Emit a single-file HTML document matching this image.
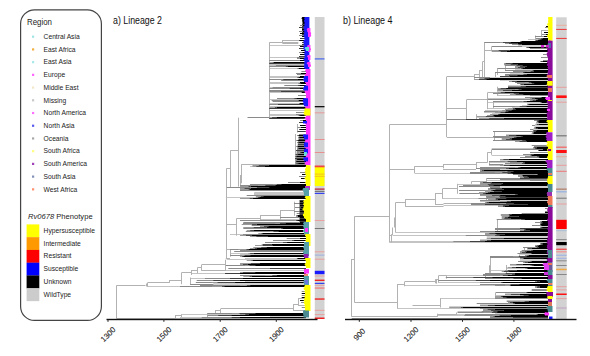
<!DOCTYPE html>
<html><head><meta charset="utf-8"><style>html,body{margin:0;padding:0;background:#fff;}svg{display:block;}</style></head>
<body><svg width="590" height="356" viewBox="0 0 590 356">
<rect width="590" height="356" fill="#fff"/>
<rect x="20.6" y="9.8" width="80.8" height="310.6" rx="14" ry="14" fill="none" stroke="#444" stroke-width="1.2"/>
<text x="27" y="25" font-size="8.3" fill="#222" font-family="Liberation Sans, sans-serif" textLength="25" lengthAdjust="spacingAndGlyphs">Region</text>
<rect x="32" y="35.60" width="2.2" height="2.2" fill="#a0e4e4"/>
<text x="43.6" y="39.00" font-size="6.7" fill="#222" font-family="Liberation Sans, sans-serif">Central Asia</text>
<rect x="32" y="48.32" width="2.2" height="2.2" fill="#f2b040"/>
<text x="43.6" y="51.72" font-size="6.7" fill="#222" font-family="Liberation Sans, sans-serif">East Africa</text>
<rect x="32" y="61.04" width="2.2" height="2.2" fill="#a8e8e8"/>
<text x="43.6" y="64.44" font-size="6.7" fill="#222" font-family="Liberation Sans, sans-serif">East Asia</text>
<rect x="32" y="73.76" width="2.2" height="2.2" fill="#ff66ff"/>
<text x="43.6" y="77.16" font-size="6.7" fill="#222" font-family="Liberation Sans, sans-serif">Europe</text>
<rect x="32" y="86.48" width="2.2" height="2.2" fill="#f4e8c8"/>
<text x="43.6" y="89.88" font-size="6.7" fill="#222" font-family="Liberation Sans, sans-serif">Middle East</text>
<rect x="32" y="99.20" width="2.2" height="2.2" fill="#c8c8c8"/>
<text x="43.6" y="102.60" font-size="6.7" fill="#222" font-family="Liberation Sans, sans-serif">Missing</text>
<rect x="32" y="111.92" width="2.2" height="2.2" fill="#ff70ff"/>
<text x="43.6" y="115.32" font-size="6.7" fill="#222" font-family="Liberation Sans, sans-serif">North America</text>
<rect x="32" y="124.64" width="2.2" height="2.2" fill="#5a5aee"/>
<text x="43.6" y="128.04" font-size="6.7" fill="#222" font-family="Liberation Sans, sans-serif">North Asia</text>
<rect x="32" y="137.36" width="2.2" height="2.2" fill="#a8a8a8"/>
<text x="43.6" y="140.76" font-size="6.7" fill="#222" font-family="Liberation Sans, sans-serif">Oceania</text>
<rect x="32" y="150.08" width="2.2" height="2.2" fill="#ffff80"/>
<text x="43.6" y="153.48" font-size="6.7" fill="#222" font-family="Liberation Sans, sans-serif">South Africa</text>
<rect x="32" y="162.80" width="2.2" height="2.2" fill="#a040b8"/>
<text x="43.6" y="166.20" font-size="6.7" fill="#222" font-family="Liberation Sans, sans-serif">South America</text>
<rect x="32" y="175.52" width="2.2" height="2.2" fill="#8090b8"/>
<text x="43.6" y="178.92" font-size="6.7" fill="#222" font-family="Liberation Sans, sans-serif">South Asia</text>
<rect x="32" y="188.24" width="2.2" height="2.2" fill="#ff9070"/>
<text x="43.6" y="191.64" font-size="6.7" fill="#222" font-family="Liberation Sans, sans-serif">West Africa</text>
<text x="28" y="219" font-size="7.6" fill="#222" font-family="Liberation Sans, sans-serif"><tspan font-style="italic">Rv0678</tspan> Phenotype</text>
<rect x="26.6" y="224.40" width="12.7" height="12.9" fill="#ffff00"/>
<text x="43.6" y="233.00" font-size="6.7" fill="#222" font-family="Liberation Sans, sans-serif">Hypersusceptible</text>
<rect x="26.6" y="237.17" width="12.7" height="12.9" fill="#ff9900"/>
<text x="43.6" y="245.72" font-size="6.7" fill="#222" font-family="Liberation Sans, sans-serif">Intermediate</text>
<rect x="26.6" y="249.94" width="12.7" height="12.9" fill="#ff0000"/>
<text x="43.6" y="258.44" font-size="6.7" fill="#222" font-family="Liberation Sans, sans-serif">Resistant</text>
<rect x="26.6" y="262.71" width="12.7" height="12.9" fill="#0000ff"/>
<text x="43.6" y="271.16" font-size="6.7" fill="#222" font-family="Liberation Sans, sans-serif">Susceptible</text>
<rect x="26.6" y="275.48" width="12.7" height="12.9" fill="#000000"/>
<text x="43.6" y="283.88" font-size="6.7" fill="#222" font-family="Liberation Sans, sans-serif">Unknown</text>
<rect x="26.6" y="288.25" width="12.7" height="12.9" fill="#cccccc"/>
<text x="43.6" y="296.60" font-size="6.7" fill="#222" font-family="Liberation Sans, sans-serif">WildType</text>
<rect x="314.8" y="17" width="9.7" height="302" fill="#d2d2d2"/>
<rect x="556.2" y="17.3" width="10.5" height="301.9" fill="#d2d2d2"/>
<rect x="314.8" y="58.3" width="9.7" height="1.2" fill="#4466ee"/>
<rect x="314.8" y="106.0" width="9.7" height="1.3" fill="#111"/>
<rect x="314.8" y="112.3" width="9.7" height="1.0" fill="#e89a9a"/>
<rect x="314.8" y="139.0" width="9.7" height="1.0" fill="#e89090"/>
<rect x="314.8" y="152.0" width="9.7" height="1.0" fill="#e89090"/>
<rect x="314.8" y="166.0" width="9.7" height="20.0" fill="#ffff00"/>
<rect x="314.8" y="165.5" width="9.7" height="1.8" fill="#ee4444"/>
<rect x="314.8" y="173.6" width="9.7" height="1.0" fill="#f4c020"/>
<rect x="314.8" y="175.8" width="9.7" height="1.0" fill="#f4c020"/>
<rect x="314.8" y="188.3" width="9.7" height="1.7" fill="#c05060"/>
<rect x="314.8" y="190.8" width="9.7" height="1.2" fill="#777"/>
<rect x="314.8" y="192.8" width="9.7" height="1.2" fill="#3344ee"/>
<rect x="314.8" y="220.0" width="9.7" height="1.0" fill="#e8a0a0"/>
<rect x="314.8" y="228.0" width="9.7" height="1.0" fill="#777"/>
<rect x="314.8" y="251.3" width="9.7" height="1.0" fill="#e8a0a0"/>
<rect x="314.8" y="254.6" width="9.7" height="1.0" fill="#a0b0e0"/>
<rect x="314.8" y="258.7" width="9.7" height="1.0" fill="#e8a0a0"/>
<rect x="314.8" y="270.8" width="9.7" height="3.4" fill="#1a1aff"/>
<rect x="314.8" y="275.5" width="9.7" height="1.0" fill="#e8a0a0"/>
<rect x="314.8" y="279.6" width="9.7" height="1.4" fill="#ee2222"/>
<rect x="314.8" y="282.8" width="9.7" height="1.2" fill="#3344ee"/>
<rect x="314.8" y="284.8" width="9.7" height="1.0" fill="#e8a0a0"/>
<rect x="314.8" y="287.3" width="9.7" height="1.5" fill="#ee8888"/>
<rect x="314.8" y="298.3" width="9.7" height="1.5" fill="#ee3333"/>
<rect x="314.8" y="309.8" width="9.7" height="1.0" fill="#e8a0a0"/>
<rect x="314.8" y="314.1" width="9.7" height="1.0" fill="#e8a0a0"/>
<rect x="314.8" y="317.5" width="9.7" height="1.5" fill="#ee2222"/>
<rect x="556.2" y="24.8" width="10.5" height="1.0" fill="#e8b0a0"/>
<rect x="556.2" y="28.9" width="10.5" height="1.1" fill="#ee4444"/>
<rect x="556.2" y="37.9" width="10.5" height="1.1" fill="#ee4444"/>
<rect x="556.2" y="86.8" width="10.5" height="1.0" fill="#e8a0a0"/>
<rect x="556.2" y="95.4" width="10.5" height="2.6" fill="#ff1111"/>
<rect x="556.2" y="101.7" width="10.5" height="1.0" fill="#e8a0a0"/>
<rect x="556.2" y="135.0" width="10.5" height="1.5" fill="#888"/>
<rect x="556.2" y="146.5" width="10.5" height="1.5" fill="#ee7777"/>
<rect x="556.2" y="150.0" width="10.5" height="3.0" fill="#ff1111"/>
<rect x="556.2" y="156.2" width="10.5" height="1.0" fill="#e8b0a0"/>
<rect x="556.2" y="164.8" width="10.5" height="1.0" fill="#e8a0a0"/>
<rect x="556.2" y="170.8" width="10.5" height="1.0" fill="#ee7777"/>
<rect x="556.2" y="188.4" width="10.5" height="1.6" fill="#b89080"/>
<rect x="556.2" y="191.0" width="10.5" height="1.5" fill="#a0b8e0"/>
<rect x="556.2" y="197.7" width="10.5" height="1.0" fill="#777"/>
<rect x="556.2" y="203.5" width="10.5" height="1.0" fill="#e8a0a0"/>
<rect x="556.2" y="219.8" width="10.5" height="9.2" fill="#ff0000"/>
<rect x="556.2" y="230.2" width="10.5" height="1.0" fill="#a8c0d8"/>
<rect x="556.2" y="239.1" width="10.5" height="1.0" fill="#888"/>
<rect x="556.2" y="242.0" width="10.5" height="3.2" fill="#000"/>
<rect x="556.2" y="248.6" width="10.5" height="1.4" fill="#ee5555"/>
<rect x="556.2" y="251.1" width="10.5" height="1.4" fill="#ee9999"/>
<rect x="556.2" y="254.6" width="10.5" height="1.4" fill="#a8b8e0"/>
<rect x="556.2" y="257.7" width="10.5" height="1.4" fill="#a8b8e0"/>
<rect x="556.2" y="260.3" width="10.5" height="1.0" fill="#888"/>
<rect x="556.2" y="265.0" width="10.5" height="1.0" fill="#888"/>
<rect x="556.2" y="268.7" width="10.5" height="1.5" fill="#eeaa44"/>
<rect x="556.2" y="274.0" width="10.5" height="1.0" fill="#888"/>
<rect x="556.2" y="286.2" width="10.5" height="1.0" fill="#e8a0a0"/>
<rect x="556.2" y="289.4" width="10.5" height="1.0" fill="#e8a0a0"/>
<rect x="556.2" y="293.5" width="10.5" height="1.5" fill="#ff1111"/>
<rect x="556.2" y="298.1" width="10.5" height="1.0" fill="#e8a0a0"/>
<rect x="556.2" y="307.5" width="10.5" height="1.0" fill="#c0a0c0"/>
<path stroke="#c4c4c4" stroke-width="1" fill="none" d="M269.2 45.5H306.0M269.2 57.5H306.0M269.2 64.5H306.0M269.2 65.5H306.0M269.2 68.5H306.0M269.2 76.5H306.0M276.4 76.5H306.0M269.2 77.5H306.0M269.2 82.5H306.0M269.2 83.5H306.0M269.2 87.5H306.0M269.2 92.5H306.0M269.2 99.5H306.0M269.2 103.5H306.0M269.2 106.5H306.0M269.2 110.5H306.0M269.2 114.5H306.0M269.2 115.5H306.0M250.0 166.5H306.0M254.2 192.5H306.0M254.0 193.5H306.0M254.0 194.5H306.0M226.7 197.5H306.0M260.0 219.5H306.0M230.0 234.5H306.0M230.0 253.5H306.0M240.0 254.5H306.0M245.0 258.5H306.0M226.7 259.5H306.0M225.8 270.5H306.0M191.7 273.5H306.0M196.7 273.5H306.0M190.0 278.5H306.0M147.5 286.5H306.0M181.7 314.5H306.0M180.0 317.5H306.0M175.7 318.5H306.0"/>
<path stroke="#b2b2b2" stroke-width="1" fill="none" d="M116.5 285.7V318.3M116.3 285.5H145.5M146.5 283.5V286.5M147.5 282.8V286.8M147.5 282.5H169.5M169.5 280.0V282.8M169.5 280.5H181.7M181.5 272.5V284.2M181.7 272.5H191.7M191.5 270.0V275.0M191.7 270.5H197.5M197.5 267.5V273.3M197.5 267.5H201.7M201.5 264.7V270.8M201.7 264.5H225.8M201.7 270.5H225.8M225.5 259.7V270.8M225.8 258.5H230.0M226.5 168.3V258.3M230.5 249.2V256.7M190.5 277.5V284.2M116.3 318.5H175.7M175.5 315.0V318.3M175.7 315.5H181.7M181.5 314.2V317.0M207.5 313.0V317.0M207.5 313.5H306.0M215.8 310.5H220.8M215.5 310.0V313.0M220.5 308.7V313.7M220.8 308.5H293.3M293.5 304.2V310.8M293.3 304.5H298.3M298.5 298.3V305.8M298.3 298.5H306.0M293.3 310.5H306.0M298.3 305.5H306.0M226.7 168.5H230.8M230.5 150.2V187.5M230.8 150.5H238.2M238.5 117.7V186.7M269.5 42.5V117.7M269.2 42.5H298.3M282.5 40.5H298.3M282.5 43.5H298.3M282.5 40.0V43.3M241.5 164.2V183.3M241.7 164.5H295.0M295.5 134.0V164.7M297.5 124.0V132.5M240.5 175.0V185.8M294.5 201.7V215.8M280.0 210.5H294.2M280.5 210.0V220.0M260.0 215.5H280.0M260.5 215.3V220.0M236.7 218.5H260.0M226.7 224.5H236.7M236.5 218.3V235.7M226.7 249.5H230.0"/>
<path stroke="#8a8a8a" stroke-width="1" fill="none" d="M300.0 25.5H306.0M299.0 31.5H306.0M299.0 35.5H306.0M299.0 45.5H306.0M299.0 52.5H306.0M297.0 57.5H306.0M297.0 58.5H306.0M269.2 60.5H306.0M275.8 65.5H306.0M269.2 66.5H306.0M301.4 71.5H306.0M296.0 73.5H306.0M297.0 74.5H306.0M269.2 79.5H306.0M281.2 80.5H306.0M284.3 85.5H306.0M272.6 87.5H306.0M269.2 88.5H306.0M269.2 90.5H306.0M269.2 91.5H306.0M298.0 95.5H306.0M277.0 98.5H306.0M271.6 100.5H306.0M272.6 101.5H306.0M269.2 104.5H306.0M296.0 112.5H306.0M296.0 114.5H306.0M247.5 117.5H306.0M300.0 120.5H306.0M297.5 127.5H306.0M299.0 134.5H306.0M298.9 135.5H306.0M298.7 136.5H306.0M298.6 137.5H306.0M298.5 138.5H306.0M298.3 139.5H306.0M298.2 140.5H306.0M298.1 141.5H306.0M297.9 142.5H306.0M297.8 143.5H306.0M297.7 144.5H306.0M297.5 145.5H306.0M297.4 146.5H306.0M297.3 147.5H306.0M297.1 148.5H306.0M297.0 149.5H306.0M296.9 150.5H306.0M296.7 151.5H306.0M296.6 152.5H306.0M296.5 153.5H306.0M296.3 154.5H306.0M296.2 155.5H306.0M296.1 156.5H306.0M295.9 157.5H306.0M295.8 158.5H306.0M295.7 159.5H306.0M295.5 160.5H306.0M295.4 161.5H306.0M295.3 162.5H306.0M295.1 163.5H306.0M295.0 164.5H306.0M300.0 172.5H306.0M299.0 176.5H306.0M288.0 182.5H306.0M250.0 184.5H306.0M240.0 185.5H306.0M226.7 187.5H306.0M240.0 190.5H306.0M246.7 195.5H306.0M294.0 203.5H306.0M295.0 207.5H306.0M294.0 211.5H306.0M296.7 213.5H306.0M280.0 217.5H306.0M240.0 220.5H306.0M243.3 222.5H306.0M243.0 223.5H306.0M251.7 225.5H306.0M243.3 228.5H306.0M245.8 231.5H306.0M243.0 234.5H306.0M286.7 238.5H306.0M273.0 240.5H306.0M265.0 242.5H306.0M230.0 249.5H306.0M240.0 250.5H306.0M234.2 251.5H306.0M230.0 255.5H306.0M225.8 265.5H306.0M228.3 268.5H306.0M248.3 268.5H306.0M240.0 275.5H306.0M205.0 278.5H306.0M196.7 280.5H306.0M195.8 282.5H306.0M190.0 284.5H306.0M200.0 285.5H306.0M180.0 286.5H306.0M301.7 291.5H306.0M301.7 295.5H306.0M301.0 302.5H306.0M301.7 307.5H306.0M207.5 313.5H306.0M207.5 315.5H306.0M201.7 317.5H306.0"/>
<path stroke="#d0d0d0" stroke-width="1" fill="none" d="M303.3 19.5H306.0M303.3 21.5H306.0M303.3 24.5H306.0M245.0 281.5H306.0M213.3 283.5H306.0M213.3 284.5H306.0M270.0 316.5H306.0"/>
<path stroke="#9a9a9a" stroke-width="1" fill="none" d="M298.3 40.5H299.1M269.2 62.5H272.5M285.0 66.5H285.7M297.0 68.5H298.4M297.0 77.5H297.5M298.0 83.5H299.4M297.0 85.5H297.8M294.0 98.5H294.3M298.0 100.5H298.5M299.0 103.5H299.3M269.2 107.5H274.7M298.0 115.5H298.9M269.2 117.5H272.1M299.0 129.5H299.2M297.0 135.5H297.5M298.0 137.5H298.7M296.0 140.5H297.1M297.0 142.5H297.6M296.0 146.5H297.3M297.0 148.5H298.0M299.0 152.5H300.1M295.0 154.5H295.7M295.0 156.5H295.4M295.0 159.5H296.6M295.0 161.5H296.1M295.0 163.5H296.4M252.5 165.5H258.5M252.5 166.5H256.3M273.0 184.5H276.8M258.0 185.5H265.4M240.0 186.5H248.3M250.0 187.5H256.9M240.0 188.5H244.3M240.0 189.5H248.4M255.8 196.5H260.5M255.8 197.5H257.7M240.0 198.5H249.4M296.0 215.5H296.6M296.0 216.5H297.6M295.0 220.5H296.0M275.0 223.5H280.0M241.7 224.5H251.9M260.0 226.5H264.0M243.3 227.5H253.4M280.0 228.5H281.1M246.7 230.5H250.1M270.0 231.5H273.5M258.3 233.5H261.3M240.0 235.5H245.7M250.0 236.5H256.2M290.0 240.5H292.1M280.0 242.5H283.1M261.7 244.5H263.0M255.0 245.5H262.4M253.3 247.5H261.1M250.0 248.5H254.7M238.3 249.5H246.5M248.3 253.5H250.1M241.7 255.5H244.7M240.0 256.5H241.9M296.7 258.5H297.1M246.7 260.5H251.3M240.0 263.5H250.6M240.0 264.5H242.9M245.0 265.5H249.6M240.0 272.5H242.6M265.0 275.5H272.3M243.3 276.5H249.4M211.7 282.5H217.6M240.0 285.5H246.9M212.0 286.5H222.0M231.7 313.5H239.5M240.0 313.5H250.4M240.0 314.5H245.2M270.0 315.5H275.2"/>
<path stroke="#4a4a4a" stroke-width="1" fill="none" d="M299.1 40.5H299.3M272.5 62.5H273.7M285.7 66.5H287.9M298.4 68.5H298.8M297.5 77.5H298.8M299.4 83.5H300.5M297.8 85.5H299.7M294.3 98.5H296.6M298.5 100.5H298.9M299.3 103.5H299.8M274.7 107.5H276.8M298.9 115.5H300.1M272.1 117.5H276.9M299.2 129.5H299.4M297.5 135.5H298.9M298.7 137.5H299.4M297.1 140.5H298.2M297.6 142.5H299.2M297.3 146.5H298.0M298.0 148.5H299.1M300.1 152.5H301.3M295.7 154.5H298.1M295.4 156.5H296.6M296.6 159.5H297.1M296.1 161.5H296.4M296.4 163.5H298.3M258.5 165.5H268.9M256.3 166.5H264.8M276.8 184.5H281.3M265.4 185.5H275.4M248.3 186.5H250.5M256.9 187.5H269.2M244.3 188.5H250.7M248.4 189.5H250.0M260.5 196.5H263.2M257.7 197.5H259.3M249.4 198.5H252.5M296.6 215.5H297.6M297.6 216.5H298.0M296.0 220.5H297.4M280.0 223.5H285.7M251.9 224.5H256.7M264.0 226.5H268.2M253.4 227.5H266.7M281.1 228.5H282.6M250.1 230.5H254.0M273.5 231.5H278.5M261.3 233.5H262.3M245.7 235.5H251.9M256.2 236.5H268.0M292.1 240.5H294.1M283.1 242.5H287.1M263.0 244.5H271.8M262.4 245.5H272.3M261.1 247.5H266.3M254.7 248.5H257.0M246.5 249.5H248.7M250.1 253.5H253.6M244.7 255.5H250.3M241.9 256.5H243.2M297.1 258.5H297.5M251.3 260.5H252.8M250.6 263.5H260.0M242.9 264.5H247.5M249.6 265.5H255.3M242.6 272.5H255.1M272.3 275.5H277.0M249.4 276.5H251.7M217.6 282.5H235.1M246.9 285.5H250.2M222.0 286.5H224.4M239.5 313.5H255.5M250.4 313.5H260.9M245.2 314.5H248.7M275.2 315.5H278.3"/>
<path stroke="#404040" stroke-width="1" fill="none" d="M302.0 24.5H306.0M302.0 26.5H306.0M299.0 27.5H306.0M302.0 28.5H306.0M302.0 30.5H306.0M302.0 32.5H306.0M302.0 34.5H306.0M302.0 36.5H306.0M302.0 38.5H306.0M300.0 38.5H306.0M302.0 40.5H306.0M302.0 42.5H306.0M302.0 44.5H306.0M302.0 46.5H306.0M302.0 48.5H306.0M299.0 48.5H306.0M302.0 50.5H306.0M302.0 52.5H306.0M302.0 54.5H306.0M302.0 56.5H306.0M299.0 56.5H306.0M302.0 58.5H306.0M302.0 60.5H306.0M269.2 63.5H306.0M283.3 79.5H306.0M289.7 88.5H306.0M281.0 91.5H306.0M278.0 104.5H306.0M269.2 108.5H306.0M269.2 118.5H306.0M299.0 122.5H306.0M297.5 131.5H306.0M299.0 139.5H306.0M298.0 144.5H306.0M296.0 150.5H306.0M295.0 158.5H306.0M299.5 200.5H306.0M299.5 201.5H306.0M299.5 202.5H306.0M299.5 203.5H306.0M299.5 204.5H306.0M299.5 205.5H306.0M299.5 206.5H306.0M299.5 207.5H306.0M299.5 208.5H306.0M299.5 209.5H306.0M299.5 210.5H306.0M299.5 211.5H306.0M299.5 212.5H306.0M299.5 213.5H306.0M299.5 214.5H306.0M299.5 215.5H306.0M299.5 216.5H306.0M299.5 217.5H306.0M299.5 218.5H306.0M299.5 219.5H306.0M299.5 220.5H306.0M299.5 221.5H306.0M270.0 268.5H306.0M225.0 273.5H306.0M230.0 278.5H306.0M213.3 280.5H306.0M218.3 315.5H306.0M231.7 317.5H306.0"/>
<path stroke="#000" stroke-width="1" fill="none" d="M303.3 17.5H306.0M303.3 18.5H306.0M303.3 20.5H306.0M303.3 22.5H306.0M303.3 23.5H306.0M303.0 25.5H306.0M302.0 29.5H306.0M303.0 31.5H306.0M300.0 33.5H306.0M302.0 36.5H306.0M299.3 40.5H306.0M300.0 46.5H306.0M301.0 50.5H306.0M303.0 52.5H306.0M300.0 54.5H306.0M300.0 58.5H306.0M300.0 60.5H306.0M273.7 62.5H306.0M287.9 66.5H306.0M298.8 68.5H306.0M301.0 73.5H306.0M300.0 76.5H306.0M298.8 77.5H306.0M298.0 79.5H306.0M300.0 82.5H306.0M300.5 83.5H306.0M299.7 85.5H306.0M300.0 88.5H306.0M301.7 92.5H306.0M296.6 98.5H306.0M298.9 100.5H306.0M299.8 103.5H306.0M276.8 107.5H306.0M300.1 115.5H306.0M276.9 117.5H306.0M303.0 120.5H306.0M300.0 125.5H306.0M301.0 127.5H306.0M299.4 129.5H306.0M298.9 135.5H306.0M299.4 137.5H306.0M298.2 140.5H306.0M299.2 142.5H306.0M298.0 146.5H306.0M299.1 148.5H306.0M301.3 152.5H306.0M298.1 154.5H306.0M296.6 156.5H306.0M297.1 159.5H306.0M296.4 161.5H306.0M298.3 163.5H306.0M268.9 165.5H306.0M264.8 166.5H306.0M302.0 174.5H306.0M301.0 178.5H306.0M300.0 182.5H306.0M281.3 184.5H306.0M275.4 185.5H306.0M250.5 186.5H306.0M269.2 187.5H306.0M250.7 188.5H306.0M250.0 189.5H306.0M263.2 196.5H306.0M259.3 197.5H306.0M252.5 198.5H306.0M300.0 201.5H306.0M300.0 203.5H306.0M300.0 205.5H306.0M301.0 207.5H306.0M300.0 209.5H306.0M300.0 211.5H306.0M297.6 215.5H306.0M298.0 216.5H306.0M300.0 217.5H306.0M300.0 219.5H306.0M297.4 220.5H306.0M300.0 222.5H306.0M285.7 223.5H306.0M256.7 224.5H306.0M268.2 226.5H306.0M266.7 227.5H306.0M282.6 228.5H306.0M254.0 230.5H306.0M278.5 231.5H306.0M262.3 233.5H306.0M251.9 235.5H306.0M268.0 236.5H306.0M300.0 238.5H306.0M294.1 240.5H306.0M287.1 242.5H306.0M271.8 244.5H306.0M272.3 245.5H306.0M266.3 247.5H306.0M257.0 248.5H306.0M248.7 249.5H306.0M253.6 253.5H306.0M250.3 255.5H306.0M243.2 256.5H306.0M297.5 258.5H306.0M252.8 260.5H306.0M260.0 263.5H306.0M247.5 264.5H306.0M255.3 265.5H306.0M255.1 272.5H306.0M240.0 273.5H306.0M277.0 275.5H306.0M251.7 276.5H306.0M243.0 278.5H306.0M240.0 280.5H306.0M235.1 282.5H306.0M250.2 285.5H306.0M224.4 286.5H306.0M301.7 293.5H306.0M301.7 297.5H306.0M300.0 300.5H306.0M255.5 313.5H306.0M260.9 313.5H306.0M248.7 314.5H306.0M231.7 315.5H306.0M278.3 315.5H306.0M240.0 317.5H306.0"/>
<path stroke="#c4c4c4" stroke-width="1" fill="none" d="M528.0 39.5H548.0M497.5 95.5H548.0M487.5 98.5H548.0M487.5 102.5H548.0M487.7 108.5H548.0M485.0 110.5H548.0M484.0 112.5H548.0M491.7 148.5H548.0M491.7 155.5H548.0M489.0 162.5H548.0M489.0 165.5H548.0M414.5 173.5H548.0M486.7 180.5H548.0M457.7 184.5H548.0M442.5 198.5H548.0M480.0 201.5H548.0M443.5 205.5H548.0M395.5 232.5H548.0M392.5 235.5H548.0M404.2 235.5H548.0M389.5 241.5H548.0M389.5 242.5H548.0M510.0 265.5H548.0M507.0 268.5H548.0M490.0 270.5H548.0M446.0 275.5H548.0M438.3 282.5H548.0M404.7 285.5H548.0M423.3 285.5H548.0M495.8 295.5H548.0M440.0 298.5H548.0M506.7 300.5H548.0M397.0 308.5H548.0M457.5 311.5H548.0M437.5 314.5H548.0M437.5 315.5H548.0"/>
<path stroke="#b2b2b2" stroke-width="1" fill="none" d="M351.5 259.0V316.7M351.7 259.5H354.5M354.5 216.3V302.5M354.5 216.5H389.5M354.5 302.5H397.0M351.7 316.5H437.7M389.5 124.5V242.5M389.5 124.5H446.8M446.5 76.7V137.0M446.8 76.5H474.2M474.5 74.2V79.0M474.2 74.5H479.2M479.5 70.0V79.0M479.2 70.5H482.5M482.5 61.7V79.0M482.5 61.5H484.2M484.5 42.5V79.0M484.2 50.5H491.7M491.5 46.7V50.8M497.5 68.3V75.0M497.5 68.5H505.0M505.5 63.3V70.0M495.5 72.5V79.0M495.0 72.5H497.5M508.5 85.0V87.5M498.5 88.3V94.2M446.8 108.5H466.8M466.5 99.5V119.0M466.8 99.5H487.7M487.5 92.5V109.2M487.7 92.5H497.7M497.5 86.7V95.8M493.5 101.7V108.0M476.5 114.2V119.0M494.5 131.5V140.7M446.8 137.5H494.3M414.5 166.3V173.0M389.5 169.5H414.5M414.5 166.5H443.0M443.5 164.7V168.3M443.0 164.5H476.0M443.0 169.5H476.0M476.5 162.3V169.0M476.0 162.5H487.7M487.5 152.3V162.3M487.7 152.5H491.7M491.5 149.8V154.8M489.5 161.7V165.0M486.5 178.3V184.0M471.8 181.5H486.0M471.5 181.3V183.8M395.5 202.5V232.5M394.5 217.5V227.5M392.5 227.5V235.0M391.5 234.2V242.5M389.5 235.5H391.3M395.5 202.5H405.3M405.5 199.2V206.7M405.3 199.5H435.0M435.5 193.3V204.2M435.0 193.5H442.5M442.5 188.8V198.8M442.5 188.5H457.7M457.5 183.8V193.8M435.0 204.5H443.5M443.5 203.5H471.0M405.3 206.5H443.5M486.5 195.0V200.0M497.5 219.7V231.3M524.5 247.8V253.7M519.5 253.7V257.0M490.5 257.0V272.8M489.5 265.3V272.8M506.5 265.0V275.0M485.5 273.7V277.8M438.5 275.5H446.0M438.5 275.7V282.8M446.5 275.3V278.7M435.8 279.5H438.3M436.5 279.5V283.7M404.7 281.5H435.8M435.5 279.2V283.3M404.5 281.7V286.3M397.0 284.5H404.7M397.5 284.2V308.3M495.5 292.5V298.3M440.5 298.3V307.5M412.5 305.5H440.0M456.5 312.5V314.2M437.7 314.5H456.8M437.5 313.7V316.7M541.0 30.5H548.0M541.5 30.0V36.0M535.5 35.5V40.0"/>
<path stroke="#8a8a8a" stroke-width="1" fill="none" d="M545.0 27.5H548.0M542.0 34.5H548.0M535.0 36.5H548.0M536.0 38.5H548.0M484.2 42.5H548.0M491.7 46.5H548.0M530.0 48.5H548.0M543.0 54.5H548.0M541.0 57.5H548.0M543.0 60.5H548.0M504.7 65.5H548.0M497.5 68.5H548.0M505.0 70.5H548.0M513.0 71.5H548.0M495.0 72.5H548.0M505.0 74.5H548.0M474.0 77.5H548.0M515.0 82.5H548.0M517.0 83.5H548.0M508.0 86.5H548.0M498.0 89.5H548.0M493.0 93.5H548.0M530.0 95.5H548.0M525.0 97.5H548.0M487.7 99.5H548.0M493.0 101.5H548.0M493.0 106.5H548.0M484.0 111.5H548.0M446.8 119.5H548.0M534.0 120.5H548.0M532.0 125.5H548.0M530.0 129.5H548.0M493.0 131.5H548.0M493.0 136.5H548.0M494.0 137.5H548.0M493.0 140.5H548.0M531.7 145.5H548.0M534.0 146.5H548.0M491.7 149.5H548.0M530.0 152.5H548.0M523.0 154.5H548.0M525.0 156.5H548.0M520.0 157.5H548.0M489.0 161.5H548.0M510.0 162.5H548.0M505.0 163.5H548.0M489.0 164.5H548.0M480.0 167.5H548.0M476.0 168.5H548.0M480.0 169.5H548.0M480.0 171.5H548.0M470.0 172.5H548.0M480.0 172.5H548.0M470.0 173.5H548.0M513.0 174.5H548.0M486.7 178.5H548.0M500.0 179.5H548.0M530.0 180.5H548.0M463.0 185.5H548.0M459.0 186.5H548.0M490.0 186.5H548.0M490.0 187.5H548.0M459.0 190.5H548.0M459.3 193.5H548.0M480.0 194.5H548.0M486.0 196.5H548.0M486.7 197.5H548.0M478.5 198.5H548.0M480.0 200.5H548.0M471.0 203.5H548.0M471.0 204.5H548.0M545.0 208.5H548.0M545.0 211.5H548.0M521.7 213.5H548.0M496.7 219.5H548.0M535.0 222.5H548.0M532.0 225.5H548.0M495.0 228.5H548.0M495.0 229.5H548.0M480.0 231.5H548.0M465.8 235.5H548.0M453.3 241.5H548.0M523.0 247.5H548.0M521.7 250.5H548.0M517.5 253.5H548.0M490.0 256.5H548.0M490.0 257.5H548.0M518.0 261.5H548.0M485.0 273.5H548.0M483.0 274.5H548.0M483.0 275.5H548.0M445.8 277.5H548.0M485.0 278.5H548.0M438.3 280.5H548.0M461.7 280.5H548.0M480.0 282.5H548.0M480.0 284.5H548.0M495.0 285.5H548.0M531.7 289.5H548.0M531.7 290.5H548.0M495.8 292.5H548.0M495.0 298.5H548.0M506.7 301.5H548.0M476.7 303.5H548.0M480.0 308.5H548.0M481.7 311.5H548.0M457.5 312.5H548.0M465.0 314.5H548.0M511.7 314.5H548.0M464.3 315.5H548.0M490.0 317.5H548.0M351.7 318.5H548.0"/>
<path stroke="#d0d0d0" stroke-width="1" fill="none" d="M518.0 45.5H548.0M522.0 46.5H548.0M515.0 69.5H548.0M510.0 73.5H548.0M490.0 77.5H548.0M500.0 80.5H548.0M508.0 85.5H548.0M497.5 91.5H548.0M527.0 103.5H548.0M522.0 105.5H548.0M512.0 107.5H548.0M492.0 113.5H548.0M477.0 117.5H548.0M480.0 119.5H548.0M535.8 123.5H548.0M534.9 125.5H548.0M534.5 126.5H548.0M533.3 129.5H548.0M531.2 134.5H548.0M506.0 134.5H548.0M530.8 135.5H548.0M530.0 137.5H548.0M500.0 160.5H548.0M503.0 164.5H548.0M500.0 169.5H548.0M500.0 186.5H548.0M500.0 187.5H548.0M500.0 200.5H548.0M540.0 226.5H548.0M540.0 228.5H548.0M486.7 236.5H548.0M486.7 237.5H548.0M480.0 239.5H548.0M527.0 249.5H548.0M519.0 254.5H548.0M520.0 259.5H548.0M520.0 260.5H548.0M505.0 293.5H548.0M480.0 304.5H548.0M449.2 306.5H548.0M495.0 313.5H548.0"/>
<path stroke="#9a9a9a" stroke-width="1" fill="none" d="M540.0 38.5H541.2M538.0 39.5H539.5M535.0 40.5H535.7M520.0 41.5H520.7M500.0 42.5H503.0M505.0 43.5H508.9M512.0 44.5H518.2M526.0 47.5H527.1M491.7 50.5H498.4M491.7 51.5H500.4M540.0 61.5H541.0M504.0 63.5H505.5M504.0 64.5H510.4M515.0 65.5H516.6M515.0 66.5H519.9M515.0 67.5H517.8M520.0 68.5H521.3M530.0 70.5H532.7M527.0 71.5H530.7M520.0 72.5H523.0M520.0 74.5H523.5M505.0 75.5H508.8M480.0 78.5H484.5M474.0 79.5H478.6M509.0 81.5H512.0M525.0 82.5H528.8M530.0 83.5H531.8M520.0 84.5H520.6M520.0 86.5H520.6M498.0 88.5H500.4M515.0 89.5H518.6M497.5 90.5H503.0M497.5 92.5H500.5M510.0 93.5H513.8M510.0 94.5H515.4M540.0 97.5H540.7M530.0 98.5H531.8M535.0 99.5H536.4M530.0 100.5H532.4M522.0 101.5H523.6M540.0 102.5H541.2M527.0 104.5H527.7M515.0 106.5H519.8M508.0 108.5H513.0M505.0 109.5H512.5M502.0 110.5H505.9M498.0 111.5H505.7M495.0 112.5H500.4M490.0 114.5H497.9M487.0 115.5H492.5M477.0 116.5H485.5M479.0 118.5H489.1M537.0 120.5H537.3M536.6 121.5H537.1M536.2 122.5H538.0M535.4 124.5H536.8M534.1 127.5H535.3M533.7 128.5H535.4M532.9 130.5H533.3M532.5 131.5H533.6M532.1 132.5H533.1M531.6 133.5H532.6M506.0 135.5H508.9M530.4 136.5H532.2M520.0 136.5H520.6M510.0 137.5H514.1M501.7 138.5H509.5M501.7 139.5H505.8M520.0 140.5H522.3M515.0 141.5H519.3M533.0 147.5H534.1M533.0 148.5H534.8M538.0 150.5H538.3M530.0 154.5H530.6M530.0 155.5H530.8M535.0 156.5H537.1M538.0 157.5H538.7M500.0 159.5H503.2M505.0 161.5H507.7M520.0 162.5H523.0M520.0 163.5H521.9M500.0 165.5H503.9M515.0 167.5H518.3M505.0 168.5H505.9M480.0 170.5H481.8M505.0 171.5H507.5M495.0 172.5H502.4M500.0 173.5H507.7M535.0 174.5H537.3M518.0 175.5H521.7M518.0 176.5H522.9M520.0 177.5H523.8M480.0 182.5H482.9M480.0 183.5H490.4M480.0 184.5H487.7M480.0 185.5H488.9M488.0 188.5H490.2M488.0 189.5H495.2M485.0 190.5H491.2M485.0 191.5H493.8M479.0 192.5H487.7M479.0 193.5H483.2M510.0 194.5H515.2M480.0 195.5H492.0M495.0 196.5H499.3M488.0 198.5H495.8M488.0 199.5H495.4M500.0 201.5H506.7M485.0 202.5H486.4M500.0 203.5H506.1M498.0 205.5H503.1M498.0 206.5H502.7M500.8 214.5H508.5M500.8 215.5H508.8M501.7 216.5H508.7M501.7 217.5H504.6M501.7 218.5H504.2M520.0 219.5H521.2M540.0 221.5H541.4M540.0 222.5H540.8M540.0 223.5H540.5M540.0 224.5H540.2M540.0 225.5H540.7M540.0 227.5H540.6M520.0 229.5H524.3M520.0 230.5H523.8M485.0 233.5H489.2M485.0 234.5H496.3M490.0 235.5H495.1M486.7 238.5H490.7M480.0 240.5H486.9M540.0 243.5H540.6M540.0 244.5H541.2M535.0 245.5H537.2M535.0 246.5H535.4M535.0 247.5H536.8M527.0 248.5H527.6M530.0 250.5H531.3M520.0 251.5H524.9M520.0 252.5H521.9M530.0 253.5H530.8M525.0 255.5H527.3M513.0 256.5H518.8M520.0 258.5H522.6M530.0 261.5H530.6M523.0 262.5H524.5M510.0 264.5H516.2M530.0 265.5H531.5M507.5 267.5H511.7M525.0 268.5H526.7M505.0 270.5H507.8M501.7 271.5H503.6M500.0 273.5H505.8M510.0 274.5H512.1M500.0 275.5H502.9M510.0 278.5H513.5M535.0 281.5H537.0M500.0 282.5H501.1M505.0 284.5H510.7M505.0 285.5H509.9M535.0 286.5H537.2M535.0 287.5H537.0M525.0 292.5H526.4M505.0 294.5H510.6M520.0 295.5H523.5M495.0 296.5H500.7M495.0 297.5H502.7M520.0 301.5H524.7M508.0 302.5H509.6M508.0 303.5H513.3M480.0 305.5H487.7M449.2 307.5H460.7M483.0 309.5H487.4M483.0 310.5H491.0M490.0 311.5H493.3M483.3 312.5H491.9M535.0 314.5H536.7M492.7 315.5H499.7M490.0 316.5H493.3"/>
<path stroke="#4a4a4a" stroke-width="1" fill="none" d="M541.2 38.5H542.9M539.5 39.5H541.3M535.7 40.5H537.3M520.7 41.5H521.4M503.0 42.5H510.6M508.9 43.5H517.9M518.2 44.5H521.6M527.1 47.5H528.5M498.4 50.5H509.7M500.4 51.5H506.9M541.0 61.5H542.4M505.5 63.5H512.2M510.4 64.5H517.9M516.6 65.5H522.5M519.9 66.5H527.0M517.8 67.5H524.7M521.3 68.5H522.6M532.7 70.5H533.6M530.7 71.5H533.9M523.0 72.5H524.3M523.5 74.5H527.0M508.8 75.5H517.2M484.5 78.5H489.2M478.6 79.5H486.2M512.0 81.5H516.3M528.8 82.5H531.2M531.8 83.5H534.1M520.6 84.5H523.7M520.6 86.5H525.6M500.4 88.5H506.1M518.6 89.5H521.4M503.0 90.5H511.9M500.5 92.5H504.3M513.8 93.5H518.9M515.4 94.5H523.1M540.7 97.5H541.9M531.8 98.5H534.7M536.4 99.5H537.9M532.4 100.5H535.9M523.6 101.5H527.0M541.2 102.5H541.6M527.7 104.5H529.1M519.8 106.5H526.4M513.0 108.5H515.0M512.5 109.5H515.3M505.9 110.5H511.3M505.7 111.5H508.3M500.4 112.5H505.1M497.9 114.5H499.2M492.5 115.5H494.0M485.5 116.5H494.2M489.1 118.5H503.9M537.3 120.5H539.2M537.1 121.5H538.2M538.0 122.5H538.8M536.8 124.5H538.8M535.3 127.5H535.8M535.4 128.5H538.0M533.3 130.5H536.3M533.6 131.5H535.7M533.1 132.5H533.8M532.6 133.5H533.3M508.9 135.5H516.1M532.2 136.5H533.1M520.6 136.5H522.6M514.1 137.5H516.3M509.5 138.5H511.5M505.8 139.5H511.3M522.3 140.5H525.7M519.3 141.5H526.4M534.1 147.5H536.9M534.8 148.5H536.3M538.3 150.5H538.7M530.6 154.5H533.6M530.8 155.5H531.5M537.1 156.5H539.1M538.7 157.5H539.3M503.2 159.5H508.6M507.7 161.5H516.8M523.0 162.5H524.9M521.9 163.5H524.5M503.9 165.5H509.4M518.3 167.5H520.3M505.9 168.5H509.0M481.8 170.5H483.5M507.5 171.5H513.4M502.4 172.5H510.5M507.7 173.5H512.4M537.3 174.5H538.0M521.7 175.5H522.6M522.9 176.5H527.2M523.8 177.5H529.0M482.9 182.5H491.4M490.4 183.5H502.7M487.7 184.5H501.2M488.9 185.5H493.4M490.2 188.5H501.4M495.2 189.5H503.9M491.2 190.5H492.5M493.8 191.5H501.4M487.7 192.5H490.0M483.2 193.5H485.6M515.2 194.5H517.5M492.0 195.5H500.1M499.3 196.5H505.4M495.8 198.5H506.2M495.4 199.5H497.5M506.7 201.5H510.6M486.4 202.5H488.4M506.1 203.5H513.7M503.1 205.5H508.8M502.7 206.5H504.9M508.5 214.5H511.3M508.8 215.5H509.9M508.7 216.5H518.6M504.6 217.5H507.5M504.2 218.5H510.5M521.2 219.5H524.7M541.4 221.5H541.8M540.8 222.5H542.4M540.5 223.5H542.1M540.2 224.5H540.4M540.7 225.5H541.4M540.6 227.5H542.1M524.3 229.5H525.6M523.8 230.5H529.4M489.2 233.5H495.1M496.3 234.5H505.0M495.1 235.5H499.5M490.7 238.5H503.4M486.9 240.5H490.9M540.6 243.5H542.3M541.2 244.5H542.4M537.2 245.5H538.9M535.4 246.5H537.5M536.8 247.5H538.8M527.6 248.5H531.9M531.3 250.5H532.8M524.9 251.5H527.0M521.9 252.5H525.6M530.8 253.5H531.8M527.3 255.5H528.8M518.8 256.5H526.5M522.6 258.5H523.9M530.6 261.5H531.8M524.5 262.5H527.9M516.2 264.5H522.6M531.5 265.5H533.4M511.7 267.5H515.6M526.7 268.5H527.5M507.8 270.5H517.0M503.6 271.5H509.1M505.8 273.5H515.0M512.1 274.5H514.9M502.9 275.5H507.7M513.5 278.5H521.5M537.0 281.5H539.6M501.1 282.5H502.4M510.7 284.5H519.3M509.9 285.5H510.8M537.2 286.5H539.6M537.0 287.5H539.8M526.4 292.5H527.3M510.6 294.5H519.5M523.5 295.5H528.3M500.7 296.5H502.2M502.7 297.5H506.2M524.7 301.5H528.9M509.6 302.5H512.4M513.3 303.5H515.0M487.7 305.5H494.3M460.7 307.5H462.9M487.4 309.5H494.7M491.0 310.5H503.8M493.3 311.5H497.4M491.9 312.5H497.2M536.7 314.5H538.0M499.7 315.5H511.0M493.3 316.5H494.8"/>
<path stroke="#404040" stroke-width="1" fill="none" d="M500.0 76.5H548.0M508.0 87.5H548.0M466.0 119.5H548.0M520.0 178.5H548.0M500.0 197.5H548.0M485.0 204.5H548.0M520.0 228.5H548.0M495.0 231.5H548.0M470.0 241.5H548.0M520.0 257.5H548.0M473.3 277.5H548.0M475.8 280.5H548.0M513.0 317.5H548.0"/>
<path stroke="#000" stroke-width="1" fill="none" d="M546.0 26.5H548.0M544.0 32.5H548.0M546.0 34.5H548.0M544.0 36.5H548.0M542.9 38.5H548.0M541.3 39.5H548.0M537.3 40.5H548.0M521.4 41.5H548.0M510.6 42.5H548.0M517.9 43.5H548.0M521.6 44.5H548.0M528.5 47.5H548.0M509.7 50.5H548.0M506.9 51.5H548.0M542.4 61.5H548.0M512.2 63.5H548.0M517.9 64.5H548.0M522.5 65.5H548.0M527.0 66.5H548.0M524.7 67.5H548.0M522.6 68.5H548.0M533.6 70.5H548.0M533.9 71.5H548.0M524.3 72.5H548.0M527.0 74.5H548.0M517.2 75.5H548.0M510.0 76.5H548.0M489.2 78.5H548.0M486.2 79.5H548.0M516.3 81.5H548.0M531.2 82.5H548.0M534.1 83.5H548.0M523.7 84.5H548.0M525.6 86.5H548.0M506.1 88.5H548.0M521.4 89.5H548.0M511.9 90.5H548.0M504.3 92.5H548.0M518.9 93.5H548.0M523.1 94.5H548.0M541.9 97.5H548.0M534.7 98.5H548.0M537.9 99.5H548.0M535.9 100.5H548.0M527.0 101.5H548.0M541.6 102.5H548.0M529.1 104.5H548.0M526.4 106.5H548.0M515.0 108.5H548.0M515.3 109.5H548.0M511.3 110.5H548.0M508.3 111.5H548.0M505.1 112.5H548.0M499.2 114.5H548.0M494.0 115.5H548.0M494.2 116.5H548.0M503.9 118.5H548.0M539.2 120.5H548.0M538.2 121.5H548.0M538.8 122.5H548.0M538.8 124.5H548.0M535.8 127.5H548.0M538.0 128.5H548.0M536.3 130.5H548.0M535.7 131.5H548.0M533.8 132.5H548.0M533.3 133.5H548.0M516.1 135.5H548.0M533.1 136.5H548.0M522.6 136.5H548.0M516.3 137.5H548.0M511.5 138.5H548.0M511.3 139.5H548.0M525.7 140.5H548.0M526.4 141.5H548.0M536.9 147.5H548.0M536.3 148.5H548.0M543.0 149.5H548.0M538.7 150.5H548.0M533.6 154.5H548.0M531.5 155.5H548.0M539.1 156.5H548.0M539.3 157.5H548.0M508.6 159.5H548.0M516.8 161.5H548.0M524.9 162.5H548.0M524.5 163.5H548.0M509.4 165.5H548.0M520.3 167.5H548.0M509.0 168.5H548.0M483.5 170.5H548.0M513.4 171.5H548.0M510.5 172.5H548.0M512.4 173.5H548.0M538.0 174.5H548.0M522.6 175.5H548.0M527.2 176.5H548.0M529.0 177.5H548.0M491.4 182.5H548.0M502.7 183.5H548.0M501.2 184.5H548.0M493.4 185.5H548.0M501.4 188.5H548.0M503.9 189.5H548.0M492.5 190.5H548.0M501.4 191.5H548.0M490.0 192.5H548.0M485.6 193.5H548.0M517.5 194.5H548.0M500.1 195.5H548.0M505.4 196.5H548.0M506.2 198.5H548.0M497.5 199.5H548.0M510.6 201.5H548.0M488.4 202.5H548.0M513.7 203.5H548.0M528.0 204.5H548.0M508.8 205.5H548.0M504.9 206.5H548.0M545.0 212.5H548.0M511.3 214.5H548.0M509.9 215.5H548.0M518.6 216.5H548.0M507.5 217.5H548.0M510.5 218.5H548.0M524.7 219.5H548.0M541.8 221.5H548.0M542.4 222.5H548.0M542.1 223.5H548.0M540.4 224.5H548.0M541.4 225.5H548.0M542.1 227.5H548.0M525.6 229.5H548.0M529.4 230.5H548.0M520.0 231.5H548.0M495.1 233.5H548.0M505.0 234.5H548.0M499.5 235.5H548.0M503.4 238.5H548.0M490.9 240.5H548.0M485.0 241.5H548.0M542.3 243.5H548.0M542.4 244.5H548.0M538.9 245.5H548.0M537.5 246.5H548.0M538.8 247.5H548.0M531.9 248.5H548.0M532.8 250.5H548.0M527.0 251.5H548.0M525.6 252.5H548.0M531.8 253.5H548.0M528.8 255.5H548.0M526.5 256.5H548.0M523.9 258.5H548.0M531.8 261.5H548.0M527.9 262.5H548.0M522.6 264.5H548.0M533.4 265.5H548.0M515.6 267.5H548.0M527.5 268.5H548.0M517.0 270.5H548.0M509.1 271.5H548.0M515.0 273.5H548.0M514.9 274.5H548.0M507.7 275.5H548.0M492.5 277.5H548.0M521.5 278.5H548.0M490.0 280.5H548.0M539.6 281.5H548.0M502.4 282.5H548.0M519.3 284.5H548.0M510.8 285.5H548.0M539.6 286.5H548.0M539.8 287.5H548.0M527.3 292.5H548.0M519.5 294.5H548.0M528.3 295.5H548.0M502.2 296.5H548.0M506.2 297.5H548.0M528.9 301.5H548.0M512.4 302.5H548.0M515.0 303.5H548.0M494.3 305.5H548.0M462.9 307.5H548.0M494.7 309.5H548.0M503.8 310.5H548.0M497.4 311.5H548.0M497.2 312.5H548.0M538.0 314.5H548.0M511.0 315.5H548.0M494.8 316.5H548.0"/>
<rect x="302.5" y="17.0" width="2.5" height="7.0" fill="#000"/>
<circle cx="303.1" cy="18.3" r="1.4" fill="#000"/>
<circle cx="303.7" cy="20.7" r="1.4" fill="#000"/>
<rect x="304.6" y="17.0" width="4.8" height="52.0" fill="#1a1aff"/>
<circle cx="306.0" cy="18.3" r="1.4" fill="#1a1aff"/>
<circle cx="305.5" cy="21.1" r="1.4" fill="#1a1aff"/>
<circle cx="306.3" cy="23.2" r="1.4" fill="#1a1aff"/>
<circle cx="306.1" cy="25.5" r="1.4" fill="#1a1aff"/>
<circle cx="305.0" cy="27.6" r="1.4" fill="#1a1aff"/>
<circle cx="305.1" cy="30.4" r="1.4" fill="#1a1aff"/>
<circle cx="305.5" cy="33.6" r="1.4" fill="#1a1aff"/>
<circle cx="305.0" cy="35.6" r="1.4" fill="#1a1aff"/>
<circle cx="305.8" cy="38.0" r="1.4" fill="#1a1aff"/>
<circle cx="304.9" cy="41.2" r="1.4" fill="#1a1aff"/>
<circle cx="305.0" cy="43.5" r="1.4" fill="#1a1aff"/>
<circle cx="304.9" cy="46.7" r="1.4" fill="#1a1aff"/>
<circle cx="304.7" cy="48.5" r="1.4" fill="#1a1aff"/>
<circle cx="306.2" cy="50.9" r="1.4" fill="#1a1aff"/>
<circle cx="305.9" cy="53.9" r="1.4" fill="#1a1aff"/>
<circle cx="306.3" cy="57.1" r="1.4" fill="#1a1aff"/>
<circle cx="304.9" cy="59.4" r="1.4" fill="#1a1aff"/>
<circle cx="305.9" cy="62.5" r="1.4" fill="#1a1aff"/>
<circle cx="305.8" cy="64.3" r="1.4" fill="#1a1aff"/>
<circle cx="305.3" cy="66.7" r="1.4" fill="#1a1aff"/>
<rect x="308.0" y="28.0" width="2.4" height="9.0" fill="#ff33ff"/>
<circle cx="308.3" cy="29.3" r="1.4" fill="#ff33ff"/>
<circle cx="308.5" cy="31.1" r="1.4" fill="#ff33ff"/>
<circle cx="309.7" cy="33.4" r="1.4" fill="#ff33ff"/>
<circle cx="309.7" cy="35.4" r="1.4" fill="#ff33ff"/>
<rect x="308.0" y="45.0" width="2.4" height="7.0" fill="#ff33ff"/>
<circle cx="308.6" cy="46.3" r="1.4" fill="#ff33ff"/>
<circle cx="309.5" cy="49.3" r="1.4" fill="#ff33ff"/>
<rect x="306.0" y="47.0" width="3.0" height="4.0" fill="#66dddd"/>
<circle cx="306.1" cy="48.3" r="1.4" fill="#66dddd"/>
<rect x="308.0" y="55.0" width="2.4" height="5.0" fill="#ff33ff"/>
<circle cx="308.7" cy="56.3" r="1.4" fill="#ff33ff"/>
<rect x="308.0" y="62.0" width="2.4" height="5.0" fill="#ff33ff"/>
<circle cx="308.3" cy="63.3" r="1.4" fill="#ff33ff"/>
<circle cx="309.6" cy="65.6" r="1.4" fill="#ff33ff"/>
<rect x="306.0" y="69.0" width="4.5" height="48.0" fill="#ff33ff"/>
<circle cx="306.7" cy="70.3" r="1.4" fill="#ff33ff"/>
<circle cx="307.4" cy="73.2" r="1.4" fill="#ff33ff"/>
<circle cx="306.1" cy="75.1" r="1.4" fill="#ff33ff"/>
<circle cx="307.7" cy="77.0" r="1.4" fill="#ff33ff"/>
<circle cx="307.3" cy="79.1" r="1.4" fill="#ff33ff"/>
<circle cx="306.6" cy="82.2" r="1.4" fill="#ff33ff"/>
<circle cx="307.7" cy="84.4" r="1.4" fill="#ff33ff"/>
<circle cx="306.5" cy="87.0" r="1.4" fill="#ff33ff"/>
<circle cx="306.6" cy="89.8" r="1.4" fill="#ff33ff"/>
<circle cx="306.0" cy="92.0" r="1.4" fill="#ff33ff"/>
<circle cx="307.6" cy="94.9" r="1.4" fill="#ff33ff"/>
<circle cx="307.7" cy="97.6" r="1.4" fill="#ff33ff"/>
<circle cx="306.4" cy="99.4" r="1.4" fill="#ff33ff"/>
<circle cx="307.7" cy="101.9" r="1.4" fill="#ff33ff"/>
<circle cx="306.7" cy="105.0" r="1.4" fill="#ff33ff"/>
<circle cx="306.8" cy="107.2" r="1.4" fill="#ff33ff"/>
<circle cx="307.7" cy="109.7" r="1.4" fill="#ff33ff"/>
<circle cx="307.4" cy="111.7" r="1.4" fill="#ff33ff"/>
<circle cx="307.5" cy="114.5" r="1.4" fill="#ff33ff"/>
<rect x="304.0" y="76.0" width="4.0" height="6.0" fill="#1a1aff"/>
<circle cx="305.1" cy="77.3" r="1.4" fill="#1a1aff"/>
<circle cx="304.6" cy="79.6" r="1.4" fill="#1a1aff"/>
<rect x="304.0" y="85.7" width="4.0" height="4.8" fill="#1a1aff"/>
<circle cx="305.4" cy="87.0" r="1.4" fill="#1a1aff"/>
<circle cx="304.4" cy="88.9" r="1.4" fill="#1a1aff"/>
<rect x="304.0" y="98.3" width="4.0" height="7.9" fill="#1a1aff"/>
<circle cx="304.4" cy="99.6" r="1.4" fill="#1a1aff"/>
<circle cx="304.1" cy="101.5" r="1.4" fill="#1a1aff"/>
<circle cx="304.6" cy="104.1" r="1.4" fill="#1a1aff"/>
<rect x="304.5" y="108.5" width="6.0" height="7.1" fill="#ffff00"/>
<circle cx="306.1" cy="109.8" r="1.4" fill="#ffff00"/>
<circle cx="305.0" cy="113.0" r="1.4" fill="#ffff00"/>
<rect x="306.0" y="117.0" width="4.5" height="48.3" fill="#ff33ff"/>
<circle cx="306.2" cy="118.3" r="1.4" fill="#ff33ff"/>
<circle cx="307.3" cy="120.8" r="1.4" fill="#ff33ff"/>
<circle cx="306.4" cy="123.2" r="1.4" fill="#ff33ff"/>
<circle cx="307.1" cy="125.6" r="1.4" fill="#ff33ff"/>
<circle cx="307.3" cy="128.4" r="1.4" fill="#ff33ff"/>
<circle cx="307.2" cy="131.3" r="1.4" fill="#ff33ff"/>
<circle cx="307.5" cy="133.3" r="1.4" fill="#ff33ff"/>
<circle cx="307.0" cy="135.5" r="1.4" fill="#ff33ff"/>
<circle cx="307.3" cy="137.8" r="1.4" fill="#ff33ff"/>
<circle cx="306.4" cy="139.9" r="1.4" fill="#ff33ff"/>
<circle cx="306.3" cy="142.1" r="1.4" fill="#ff33ff"/>
<circle cx="307.0" cy="145.1" r="1.4" fill="#ff33ff"/>
<circle cx="306.7" cy="147.4" r="1.4" fill="#ff33ff"/>
<circle cx="306.9" cy="150.5" r="1.4" fill="#ff33ff"/>
<circle cx="307.5" cy="152.7" r="1.4" fill="#ff33ff"/>
<circle cx="307.8" cy="155.4" r="1.4" fill="#ff33ff"/>
<circle cx="306.9" cy="157.3" r="1.4" fill="#ff33ff"/>
<circle cx="307.5" cy="160.3" r="1.4" fill="#ff33ff"/>
<circle cx="306.1" cy="163.4" r="1.4" fill="#ff33ff"/>
<rect x="303.0" y="121.0" width="4.0" height="2.5" fill="#1a1aff"/>
<rect x="304.0" y="134.6" width="4.0" height="4.8" fill="#1a1aff"/>
<circle cx="304.2" cy="135.9" r="1.4" fill="#1a1aff"/>
<circle cx="305.8" cy="138.0" r="1.4" fill="#1a1aff"/>
<rect x="304.0" y="142.5" width="4.0" height="4.7" fill="#1a1aff"/>
<circle cx="305.7" cy="143.8" r="1.4" fill="#1a1aff"/>
<rect x="304.0" y="148.8" width="4.0" height="4.7" fill="#1a1aff"/>
<circle cx="305.6" cy="150.1" r="1.4" fill="#1a1aff"/>
<rect x="304.0" y="157.4" width="4.0" height="4.0" fill="#1a1aff"/>
<circle cx="304.5" cy="158.7" r="1.4" fill="#1a1aff"/>
<rect x="304.0" y="152.0" width="2.5" height="4.0" fill="#66dddd"/>
<circle cx="305.7" cy="153.3" r="1.4" fill="#66dddd"/>
<rect x="306.0" y="165.3" width="4.5" height="20.7" fill="#ffff00"/>
<circle cx="307.1" cy="166.6" r="1.4" fill="#ffff00"/>
<circle cx="306.4" cy="169.3" r="1.4" fill="#ffff00"/>
<circle cx="306.3" cy="171.6" r="1.4" fill="#ffff00"/>
<circle cx="306.5" cy="173.7" r="1.4" fill="#ffff00"/>
<circle cx="307.2" cy="176.3" r="1.4" fill="#ffff00"/>
<circle cx="306.0" cy="178.4" r="1.4" fill="#ffff00"/>
<circle cx="307.2" cy="180.7" r="1.4" fill="#ffff00"/>
<circle cx="306.6" cy="182.7" r="1.4" fill="#ffff00"/>
<rect x="305.0" y="186.0" width="5.0" height="4.0" fill="#aa33cc"/>
<circle cx="306.4" cy="187.3" r="1.4" fill="#aa33cc"/>
<rect x="304.0" y="188.0" width="5.0" height="8.0" fill="#55a0a8"/>
<circle cx="304.1" cy="189.3" r="1.4" fill="#55a0a8"/>
<circle cx="304.7" cy="191.2" r="1.4" fill="#55a0a8"/>
<circle cx="305.2" cy="193.8" r="1.4" fill="#55a0a8"/>
<rect x="306.0" y="196.0" width="4.5" height="26.0" fill="#ffff00"/>
<circle cx="306.3" cy="197.3" r="1.4" fill="#ffff00"/>
<circle cx="306.7" cy="200.1" r="1.4" fill="#ffff00"/>
<circle cx="306.6" cy="202.3" r="1.4" fill="#ffff00"/>
<circle cx="306.6" cy="205.4" r="1.4" fill="#ffff00"/>
<circle cx="306.6" cy="208.0" r="1.4" fill="#ffff00"/>
<circle cx="307.6" cy="210.4" r="1.4" fill="#ffff00"/>
<circle cx="306.7" cy="213.6" r="1.4" fill="#ffff00"/>
<circle cx="307.3" cy="215.7" r="1.4" fill="#ffff00"/>
<circle cx="306.0" cy="217.7" r="1.4" fill="#ffff00"/>
<rect x="304.0" y="200.0" width="2.5" height="18.0" fill="#ffff00"/>
<circle cx="304.8" cy="201.3" r="1.4" fill="#ffff00"/>
<circle cx="304.7" cy="204.2" r="1.4" fill="#ffff00"/>
<circle cx="304.8" cy="207.3" r="1.4" fill="#ffff00"/>
<circle cx="304.0" cy="209.3" r="1.4" fill="#ffff00"/>
<circle cx="305.2" cy="211.9" r="1.4" fill="#ffff00"/>
<circle cx="304.2" cy="215.0" r="1.4" fill="#ffff00"/>
<rect x="304.0" y="222.0" width="5.0" height="12.0" fill="#55a0a8"/>
<circle cx="304.7" cy="223.3" r="1.4" fill="#55a0a8"/>
<circle cx="304.3" cy="225.8" r="1.4" fill="#55a0a8"/>
<circle cx="304.9" cy="228.0" r="1.4" fill="#55a0a8"/>
<circle cx="304.2" cy="231.1" r="1.4" fill="#55a0a8"/>
<rect x="305.0" y="228.0" width="3.0" height="4.0" fill="#ff33ff"/>
<circle cx="306.4" cy="229.3" r="1.4" fill="#ff33ff"/>
<rect x="306.0" y="234.0" width="4.5" height="12.0" fill="#ffff00"/>
<circle cx="306.4" cy="235.3" r="1.4" fill="#ffff00"/>
<circle cx="307.7" cy="237.3" r="1.4" fill="#ffff00"/>
<circle cx="306.9" cy="240.4" r="1.4" fill="#ffff00"/>
<circle cx="307.7" cy="242.3" r="1.4" fill="#ffff00"/>
<circle cx="307.6" cy="244.7" r="1.4" fill="#ffff00"/>
<rect x="304.0" y="242.0" width="5.0" height="14.0" fill="#55a0a8"/>
<circle cx="305.5" cy="243.3" r="1.4" fill="#55a0a8"/>
<circle cx="305.4" cy="245.3" r="1.4" fill="#55a0a8"/>
<circle cx="304.7" cy="247.4" r="1.4" fill="#55a0a8"/>
<circle cx="305.5" cy="250.4" r="1.4" fill="#55a0a8"/>
<circle cx="304.4" cy="252.5" r="1.4" fill="#55a0a8"/>
<rect x="304.0" y="254.0" width="4.5" height="4.0" fill="#8822aa"/>
<circle cx="304.9" cy="255.3" r="1.4" fill="#8822aa"/>
<rect x="306.0" y="258.0" width="4.5" height="10.0" fill="#ffff00"/>
<circle cx="306.2" cy="259.3" r="1.4" fill="#ffff00"/>
<circle cx="307.3" cy="261.4" r="1.4" fill="#ffff00"/>
<circle cx="306.1" cy="264.5" r="1.4" fill="#ffff00"/>
<rect x="304.0" y="269.0" width="5.0" height="4.5" fill="#ff33ff"/>
<circle cx="305.4" cy="270.3" r="1.4" fill="#ff33ff"/>
<circle cx="305.5" cy="272.2" r="1.4" fill="#ff33ff"/>
<rect x="304.0" y="274.0" width="4.0" height="2.0" fill="#ee8866"/>
<rect x="304.0" y="276.0" width="5.0" height="9.0" fill="#55a0a8"/>
<circle cx="305.1" cy="277.3" r="1.4" fill="#55a0a8"/>
<circle cx="305.1" cy="279.9" r="1.4" fill="#55a0a8"/>
<circle cx="304.8" cy="282.1" r="1.4" fill="#55a0a8"/>
<rect x="305.0" y="280.0" width="3.0" height="4.0" fill="#6677dd"/>
<circle cx="305.8" cy="281.3" r="1.4" fill="#6677dd"/>
<rect x="305.0" y="285.0" width="5.5" height="26.0" fill="#ffff00"/>
<circle cx="305.8" cy="286.3" r="1.4" fill="#ffff00"/>
<circle cx="305.0" cy="288.7" r="1.4" fill="#ffff00"/>
<circle cx="305.9" cy="291.4" r="1.4" fill="#ffff00"/>
<circle cx="306.4" cy="293.5" r="1.4" fill="#ffff00"/>
<circle cx="305.8" cy="296.4" r="1.4" fill="#ffff00"/>
<circle cx="305.9" cy="298.5" r="1.4" fill="#ffff00"/>
<circle cx="305.2" cy="300.4" r="1.4" fill="#ffff00"/>
<circle cx="305.2" cy="302.8" r="1.4" fill="#ffff00"/>
<circle cx="305.9" cy="305.2" r="1.4" fill="#ffff00"/>
<circle cx="306.1" cy="307.1" r="1.4" fill="#ffff00"/>
<circle cx="306.3" cy="309.0" r="1.4" fill="#ffff00"/>
<rect x="303.5" y="310.5" width="5.5" height="7.0" fill="#4a8a90"/>
<circle cx="304.4" cy="311.8" r="1.4" fill="#4a8a90"/>
<circle cx="304.4" cy="313.7" r="1.4" fill="#4a8a90"/>
<circle cx="305.2" cy="316.0" r="1.4" fill="#4a8a90"/>
<rect x="548.3" y="17.0" width="4.2" height="23.7" fill="#ffff00"/>
<circle cx="549.8" cy="18.3" r="1.4" fill="#ffff00"/>
<circle cx="549.6" cy="21.5" r="1.4" fill="#ffff00"/>
<circle cx="548.6" cy="24.4" r="1.4" fill="#ffff00"/>
<circle cx="549.2" cy="27.6" r="1.4" fill="#ffff00"/>
<circle cx="549.9" cy="30.7" r="1.4" fill="#ffff00"/>
<circle cx="549.7" cy="32.8" r="1.4" fill="#ffff00"/>
<circle cx="548.4" cy="35.9" r="1.4" fill="#ffff00"/>
<circle cx="549.7" cy="38.2" r="1.4" fill="#ffff00"/>
<rect x="548.0" y="40.7" width="4.6" height="79.3" fill="#8a0a9a"/>
<circle cx="549.6" cy="42.0" r="1.4" fill="#8a0a9a"/>
<circle cx="549.5" cy="44.2" r="1.4" fill="#8a0a9a"/>
<circle cx="548.9" cy="46.2" r="1.4" fill="#8a0a9a"/>
<circle cx="548.4" cy="49.3" r="1.4" fill="#8a0a9a"/>
<circle cx="548.9" cy="51.4" r="1.4" fill="#8a0a9a"/>
<circle cx="548.1" cy="53.7" r="1.4" fill="#8a0a9a"/>
<circle cx="548.3" cy="55.7" r="1.4" fill="#8a0a9a"/>
<circle cx="549.2" cy="58.9" r="1.4" fill="#8a0a9a"/>
<circle cx="548.3" cy="61.9" r="1.4" fill="#8a0a9a"/>
<circle cx="548.2" cy="64.8" r="1.4" fill="#8a0a9a"/>
<circle cx="549.1" cy="67.3" r="1.4" fill="#8a0a9a"/>
<circle cx="549.6" cy="69.7" r="1.4" fill="#8a0a9a"/>
<circle cx="549.0" cy="72.2" r="1.4" fill="#8a0a9a"/>
<circle cx="548.2" cy="75.3" r="1.4" fill="#8a0a9a"/>
<circle cx="549.1" cy="78.5" r="1.4" fill="#8a0a9a"/>
<circle cx="549.4" cy="80.8" r="1.4" fill="#8a0a9a"/>
<circle cx="549.8" cy="83.0" r="1.4" fill="#8a0a9a"/>
<circle cx="548.6" cy="85.6" r="1.4" fill="#8a0a9a"/>
<circle cx="548.8" cy="88.5" r="1.4" fill="#8a0a9a"/>
<circle cx="549.3" cy="90.5" r="1.4" fill="#8a0a9a"/>
<circle cx="549.5" cy="92.4" r="1.4" fill="#8a0a9a"/>
<circle cx="549.2" cy="94.5" r="1.4" fill="#8a0a9a"/>
<circle cx="549.1" cy="97.7" r="1.4" fill="#8a0a9a"/>
<circle cx="548.6" cy="100.4" r="1.4" fill="#8a0a9a"/>
<circle cx="548.1" cy="102.2" r="1.4" fill="#8a0a9a"/>
<circle cx="549.1" cy="104.2" r="1.4" fill="#8a0a9a"/>
<circle cx="548.9" cy="106.7" r="1.4" fill="#8a0a9a"/>
<circle cx="548.2" cy="109.7" r="1.4" fill="#8a0a9a"/>
<circle cx="549.2" cy="111.8" r="1.4" fill="#8a0a9a"/>
<circle cx="548.0" cy="113.7" r="1.4" fill="#8a0a9a"/>
<circle cx="548.2" cy="116.0" r="1.4" fill="#8a0a9a"/>
<circle cx="548.4" cy="118.3" r="1.4" fill="#8a0a9a"/>
<rect x="548.0" y="43.0" width="3.0" height="5.0" fill="#5566aa"/>
<circle cx="549.1" cy="44.3" r="1.4" fill="#5566aa"/>
<circle cx="549.1" cy="46.4" r="1.4" fill="#5566aa"/>
<rect x="541.0" y="45.0" width="3.0" height="2.5" fill="#cc22cc"/>
<rect x="546.0" y="45.0" width="3.0" height="2.5" fill="#cc22cc"/>
<rect x="548.0" y="75.0" width="4.0" height="3.0" fill="#ee7755"/>
<circle cx="548.2" cy="76.3" r="1.4" fill="#ee7755"/>
<rect x="548.0" y="81.0" width="4.6" height="4.7" fill="#ffff00"/>
<circle cx="548.4" cy="82.3" r="1.4" fill="#ffff00"/>
<circle cx="548.2" cy="84.3" r="1.4" fill="#ffff00"/>
<rect x="548.0" y="88.0" width="4.0" height="4.0" fill="#ee7755"/>
<circle cx="549.6" cy="89.3" r="1.4" fill="#ee7755"/>
<rect x="546.0" y="97.0" width="4.0" height="3.0" fill="#ff33ff"/>
<circle cx="546.7" cy="98.3" r="1.4" fill="#ff33ff"/>
<rect x="548.0" y="100.0" width="4.0" height="1.0" fill="#ffff00"/>
<rect x="547.0" y="109.0" width="3.0" height="2.0" fill="#ff33ff"/>
<rect x="548.0" y="120.0" width="4.6" height="12.0" fill="#ffff00"/>
<circle cx="548.0" cy="121.3" r="1.4" fill="#ffff00"/>
<circle cx="549.0" cy="124.0" r="1.4" fill="#ffff00"/>
<circle cx="549.2" cy="126.3" r="1.4" fill="#ffff00"/>
<circle cx="549.7" cy="128.7" r="1.4" fill="#ffff00"/>
<rect x="547.0" y="132.3" width="5.5" height="8.7" fill="#a020c8"/>
<circle cx="547.4" cy="133.6" r="1.4" fill="#a020c8"/>
<circle cx="547.1" cy="136.7" r="1.4" fill="#a020c8"/>
<circle cx="547.7" cy="139.2" r="1.4" fill="#a020c8"/>
<rect x="548.0" y="141.0" width="4.6" height="19.0" fill="#ffff00"/>
<circle cx="548.1" cy="142.3" r="1.4" fill="#ffff00"/>
<circle cx="548.0" cy="145.2" r="1.4" fill="#ffff00"/>
<circle cx="549.7" cy="147.8" r="1.4" fill="#ffff00"/>
<circle cx="548.4" cy="149.8" r="1.4" fill="#ffff00"/>
<circle cx="548.9" cy="152.4" r="1.4" fill="#ffff00"/>
<circle cx="549.5" cy="155.1" r="1.4" fill="#ffff00"/>
<circle cx="548.6" cy="157.2" r="1.4" fill="#ffff00"/>
<rect x="548.0" y="149.0" width="3.0" height="2.0" fill="#8a0a9a"/>
<rect x="547.0" y="160.0" width="5.5" height="8.0" fill="#a020c8"/>
<circle cx="547.1" cy="161.3" r="1.4" fill="#a020c8"/>
<circle cx="548.4" cy="164.3" r="1.4" fill="#a020c8"/>
<rect x="548.0" y="168.0" width="4.5" height="8.0" fill="#4a8a90"/>
<circle cx="548.0" cy="169.3" r="1.4" fill="#4a8a90"/>
<circle cx="549.3" cy="172.3" r="1.4" fill="#4a8a90"/>
<rect x="548.0" y="173.0" width="4.0" height="2.0" fill="#ee7755"/>
<rect x="548.0" y="176.0" width="4.6" height="8.0" fill="#ffff00"/>
<circle cx="549.3" cy="177.3" r="1.4" fill="#ffff00"/>
<circle cx="548.4" cy="179.7" r="1.4" fill="#ffff00"/>
<circle cx="548.4" cy="181.7" r="1.4" fill="#ffff00"/>
<rect x="548.0" y="184.0" width="4.5" height="8.0" fill="#4a8a90"/>
<circle cx="548.6" cy="185.3" r="1.4" fill="#4a8a90"/>
<circle cx="549.3" cy="188.1" r="1.4" fill="#4a8a90"/>
<rect x="547.0" y="192.0" width="5.0" height="4.0" fill="#9a30b0"/>
<circle cx="548.3" cy="193.3" r="1.4" fill="#9a30b0"/>
<rect x="548.0" y="196.0" width="4.5" height="9.0" fill="#ee7755"/>
<circle cx="549.0" cy="197.3" r="1.4" fill="#ee7755"/>
<circle cx="549.4" cy="199.7" r="1.4" fill="#ee7755"/>
<circle cx="548.5" cy="202.2" r="1.4" fill="#ee7755"/>
<rect x="548.0" y="205.0" width="4.5" height="3.0" fill="#4a8a90"/>
<circle cx="549.7" cy="206.3" r="1.4" fill="#4a8a90"/>
<rect x="548.0" y="207.0" width="4.6" height="55.0" fill="#8a0a9a"/>
<circle cx="549.6" cy="208.3" r="1.4" fill="#8a0a9a"/>
<circle cx="548.5" cy="210.1" r="1.4" fill="#8a0a9a"/>
<circle cx="549.3" cy="212.3" r="1.4" fill="#8a0a9a"/>
<circle cx="549.3" cy="215.4" r="1.4" fill="#8a0a9a"/>
<circle cx="549.6" cy="217.6" r="1.4" fill="#8a0a9a"/>
<circle cx="548.4" cy="219.9" r="1.4" fill="#8a0a9a"/>
<circle cx="549.1" cy="223.0" r="1.4" fill="#8a0a9a"/>
<circle cx="549.2" cy="225.7" r="1.4" fill="#8a0a9a"/>
<circle cx="548.8" cy="228.9" r="1.4" fill="#8a0a9a"/>
<circle cx="549.3" cy="231.9" r="1.4" fill="#8a0a9a"/>
<circle cx="548.8" cy="234.9" r="1.4" fill="#8a0a9a"/>
<circle cx="549.0" cy="237.7" r="1.4" fill="#8a0a9a"/>
<circle cx="548.4" cy="239.9" r="1.4" fill="#8a0a9a"/>
<circle cx="548.1" cy="242.6" r="1.4" fill="#8a0a9a"/>
<circle cx="548.3" cy="245.7" r="1.4" fill="#8a0a9a"/>
<circle cx="548.2" cy="247.5" r="1.4" fill="#8a0a9a"/>
<circle cx="548.6" cy="250.6" r="1.4" fill="#8a0a9a"/>
<circle cx="548.1" cy="252.6" r="1.4" fill="#8a0a9a"/>
<circle cx="549.2" cy="254.5" r="1.4" fill="#8a0a9a"/>
<circle cx="549.3" cy="257.2" r="1.4" fill="#8a0a9a"/>
<circle cx="548.1" cy="260.0" r="1.4" fill="#8a0a9a"/>
<rect x="548.0" y="250.0" width="4.0" height="8.0" fill="#4a8a90"/>
<circle cx="548.7" cy="251.3" r="1.4" fill="#4a8a90"/>
<circle cx="549.5" cy="254.2" r="1.4" fill="#4a8a90"/>
<rect x="548.0" y="262.0" width="4.5" height="10.0" fill="#6a5a9a"/>
<circle cx="548.1" cy="263.3" r="1.4" fill="#6a5a9a"/>
<circle cx="549.6" cy="266.3" r="1.4" fill="#6a5a9a"/>
<circle cx="548.2" cy="269.4" r="1.4" fill="#6a5a9a"/>
<rect x="544.0" y="263.0" width="5.0" height="7.0" fill="#e040f0"/>
<circle cx="544.2" cy="264.3" r="1.4" fill="#e040f0"/>
<circle cx="545.5" cy="266.1" r="1.4" fill="#e040f0"/>
<rect x="548.0" y="263.0" width="4.0" height="2.0" fill="#ee7755"/>
<rect x="548.0" y="270.0" width="4.5" height="5.0" fill="#4a8a90"/>
<circle cx="549.1" cy="271.3" r="1.4" fill="#4a8a90"/>
<rect x="548.0" y="275.0" width="4.6" height="4.0" fill="#8a0a9a"/>
<circle cx="549.1" cy="276.3" r="1.4" fill="#8a0a9a"/>
<rect x="548.0" y="279.0" width="4.5" height="4.0" fill="#4a8a90"/>
<circle cx="548.2" cy="280.3" r="1.4" fill="#4a8a90"/>
<rect x="548.0" y="283.0" width="4.5" height="2.0" fill="#ee7755"/>
<rect x="548.0" y="285.0" width="4.5" height="1.0" fill="#4a8a90"/>
<rect x="544.0" y="272.0" width="4.0" height="3.0" fill="#cc33dd"/>
<circle cx="545.4" cy="273.3" r="1.4" fill="#cc33dd"/>
<rect x="548.0" y="286.0" width="4.6" height="6.0" fill="#ffff00"/>
<circle cx="548.6" cy="287.3" r="1.4" fill="#ffff00"/>
<circle cx="548.0" cy="289.7" r="1.4" fill="#ffff00"/>
<rect x="547.0" y="292.0" width="6.0" height="5.0" fill="#8a0a9a"/>
<circle cx="547.5" cy="293.3" r="1.4" fill="#8a0a9a"/>
<rect x="548.0" y="296.0" width="4.6" height="3.0" fill="#ffff00"/>
<circle cx="548.7" cy="297.3" r="1.4" fill="#ffff00"/>
<rect x="548.0" y="299.0" width="4.0" height="3.0" fill="#8a0a9a"/>
<circle cx="549.7" cy="300.3" r="1.4" fill="#8a0a9a"/>
<rect x="548.0" y="302.0" width="4.0" height="4.0" fill="#dd7755"/>
<circle cx="549.5" cy="303.3" r="1.4" fill="#dd7755"/>
<rect x="548.0" y="306.0" width="4.5" height="6.0" fill="#4a8a90"/>
<circle cx="548.1" cy="307.3" r="1.4" fill="#4a8a90"/>
<circle cx="548.8" cy="309.7" r="1.4" fill="#4a8a90"/>
<rect x="545.0" y="312.5" width="4.0" height="3.0" fill="#ff33ff"/>
<circle cx="545.6" cy="313.8" r="1.4" fill="#ff33ff"/>
<rect x="549.0" y="316.5" width="3.5" height="2.5" fill="#1a1aff"/>
<text x="113" y="23.8" font-size="10" fill="#111" font-family="Liberation Sans, sans-serif" textLength="49" lengthAdjust="spacingAndGlyphs">a) Lineage 2</text>
<text x="343" y="23.8" font-size="10" fill="#111" font-family="Liberation Sans, sans-serif" textLength="49.5" lengthAdjust="spacingAndGlyphs">b) Lineage 4</text>
<rect x="106.5" y="318.8" width="211" height="1.4" fill="#111"/>
<rect x="107.5" y="319" width="1" height="2.8" fill="#222"/>
<text x="0" y="0" font-size="7.8" fill="#1a1a1a" stroke="#1a1a1a" stroke-width="0.1" font-family="Liberation Sans, sans-serif" text-anchor="middle" transform="translate(108,334.4) rotate(-45) translate(0,2.8)">1300</text>
<rect x="163.4" y="319" width="1" height="2.8" fill="#222"/>
<text x="0" y="0" font-size="7.8" fill="#1a1a1a" stroke="#1a1a1a" stroke-width="0.1" font-family="Liberation Sans, sans-serif" text-anchor="middle" transform="translate(163.9,334.4) rotate(-45) translate(0,2.8)">1500</text>
<rect x="219.7" y="319" width="1" height="2.8" fill="#222"/>
<text x="0" y="0" font-size="7.8" fill="#1a1a1a" stroke="#1a1a1a" stroke-width="0.1" font-family="Liberation Sans, sans-serif" text-anchor="middle" transform="translate(220.2,334.4) rotate(-45) translate(0,2.8)">1700</text>
<rect x="275.8" y="319" width="1" height="2.8" fill="#222"/>
<text x="0" y="0" font-size="7.8" fill="#1a1a1a" stroke="#1a1a1a" stroke-width="0.1" font-family="Liberation Sans, sans-serif" text-anchor="middle" transform="translate(276.3,334.4) rotate(-45) translate(0,2.8)">1900</text>
<rect x="345" y="318.8" width="231.5" height="1.4" fill="#111"/>
<rect x="358.8" y="319" width="1" height="2.8" fill="#222"/>
<text x="0" y="0" font-size="7.8" fill="#1a1a1a" stroke="#1a1a1a" stroke-width="0.1" font-family="Liberation Sans, sans-serif" text-anchor="middle" transform="translate(359.3,334.4) rotate(-45) translate(0,2.8)">900</text>
<rect x="410.5" y="319" width="1" height="2.8" fill="#222"/>
<text x="0" y="0" font-size="7.8" fill="#1a1a1a" stroke="#1a1a1a" stroke-width="0.1" font-family="Liberation Sans, sans-serif" text-anchor="middle" transform="translate(411,334.4) rotate(-45) translate(0,2.8)">1200</text>
<rect x="462.0" y="319" width="1" height="2.8" fill="#222"/>
<text x="0" y="0" font-size="7.8" fill="#1a1a1a" stroke="#1a1a1a" stroke-width="0.1" font-family="Liberation Sans, sans-serif" text-anchor="middle" transform="translate(462.5,334.4) rotate(-45) translate(0,2.8)">1500</text>
<rect x="513.4" y="319" width="1" height="2.8" fill="#222"/>
<text x="0" y="0" font-size="7.8" fill="#1a1a1a" stroke="#1a1a1a" stroke-width="0.1" font-family="Liberation Sans, sans-serif" text-anchor="middle" transform="translate(513.9,334.4) rotate(-45) translate(0,2.8)">1800</text>
</svg></body></html>
